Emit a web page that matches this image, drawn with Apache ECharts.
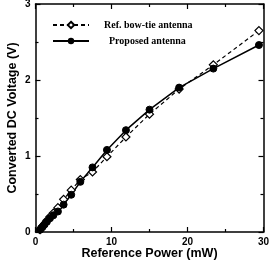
<!DOCTYPE html>
<html>
<head>
<meta charset="utf-8">
<script src="https://cdn.jsdelivr.net/npm/echarts@6/dist/echarts.min.js"></script>
<style>
  html, body { margin: 0; padding: 0; background: #fff; }
  #chart { width: 269px; height: 262px; }
</style>
</head>
<body>
<div id="chart"></div>
<script>
// reference power (mW)
const power = [0.6, 0.75, 0.95, 1.2, 1.5, 1.9, 2.35, 2.95, 3.7, 4.7, 5.9, 7.5, 9.4, 11.9, 15.0, 18.9, 23.4, 29.4]
// converted DC voltage (V)
const refBowTie = [0.03, 0.05, 0.08, 0.11, 0.15, 0.2, 0.25, 0.32, 0.43, 0.55, 0.69, 0.79, 0.99, 1.25, 1.55, 1.88, 2.20, 2.65]
const proposed = [0.03, 0.05, 0.07, 0.1, 0.135, 0.18, 0.22, 0.27, 0.36, 0.49, 0.66, 0.85, 1.08, 1.34, 1.61, 1.90, 2.15, 2.46]

const axisLine = { lineStyle: { color: '#000', width: 1.5 } }
const tickFont = { color: '#000', fontFamily: 'Arial', fontWeight: 'bold', fontSize: 10 }
const nameFont = { color: '#000', fontFamily: 'Arial', fontWeight: 'bold', fontSize: 12.5 }
const legendFont = { color: '#000', fontFamily: 'Liberation Serif', fontWeight: 'bold', fontSize: 10 }

function axis(opts, show) {
  return Object.assign({
    type: 'value',
    axisLine: Object.assign({ show: true, onZero: false }, axisLine),
    axisTick: { show: true, inside: true, length: 5, lineStyle: { color: '#000', width: 1.2 } },
    minorTick: { show: true, splitNumber: 2, length: 3, lineStyle: { color: '#000', width: 1.2 } },
    splitLine: { show: false },
    nameMoveOverlap: false,
    axisLabel: show ? Object.assign({ margin: 5 }, tickFont) : { show: false }
  }, opts)
}

const chart = echarts.init(document.getElementById('chart'))
chart.setOption({
  animation: false,
  grid: { left: 35.5, top: 4, width: 228, height: 228, containLabel: false, outerBoundsMode: 'none' },
  legend: {
    orient: 'vertical',
    left: 52,
    top: 20,
    padding: 0,
    itemWidth: 36,
    itemHeight: 8,
    itemGap: 6,
    textStyle: legendFont,
    data: [
      { name: 'Ref. bow-tie antenna', textStyle: Object.assign({ padding: [0, 0, 0, 10] }, legendFont) },
      { name: 'Proposed antenna', textStyle: Object.assign({ padding: [0, 0, 0, 15] }, legendFont) }
    ]
  },
  xAxis: [
    axis({ min: 0, max: 30, interval: 10, position: 'bottom',
      name: 'Reference Power (mW)', nameLocation: 'middle', nameGap: 15.5,
      nameTextStyle: nameFont }, true),
    axis({ min: 0, max: 30, interval: 10, position: 'top' }, false)
  ],
  yAxis: [
    axis({ min: 0, max: 3, interval: 1, position: 'left',
      name: 'Converted DC Voltage (V)', nameLocation: 'middle', nameGap: 16,
      nameTextStyle: nameFont }, true),
    axis({ min: 0, max: 3, interval: 1, position: 'right' }, false)
  ],
  series: [
    {
      name: 'Ref. bow-tie antenna',
      type: 'line',
      data: power.map((p, i) => [p, refBowTie[i]]),
      symbol: 'diamond',
      symbolSize: 8,
      lineStyle: { color: '#000', width: 1.2, type: [4, 3] },
      itemStyle: { color: '#fff', borderColor: '#000', borderWidth: 1.2 }
    },
    {
      name: 'Proposed antenna',
      type: 'line',
      data: power.map((p, i) => [p, proposed[i]]),
      symbol: 'circle',
      symbolSize: 7,
      lineStyle: { color: '#000', width: 1.5 },
      itemStyle: { color: '#000', borderColor: '#000' }
    }
  ]
})
</script>
</body>
</html>
